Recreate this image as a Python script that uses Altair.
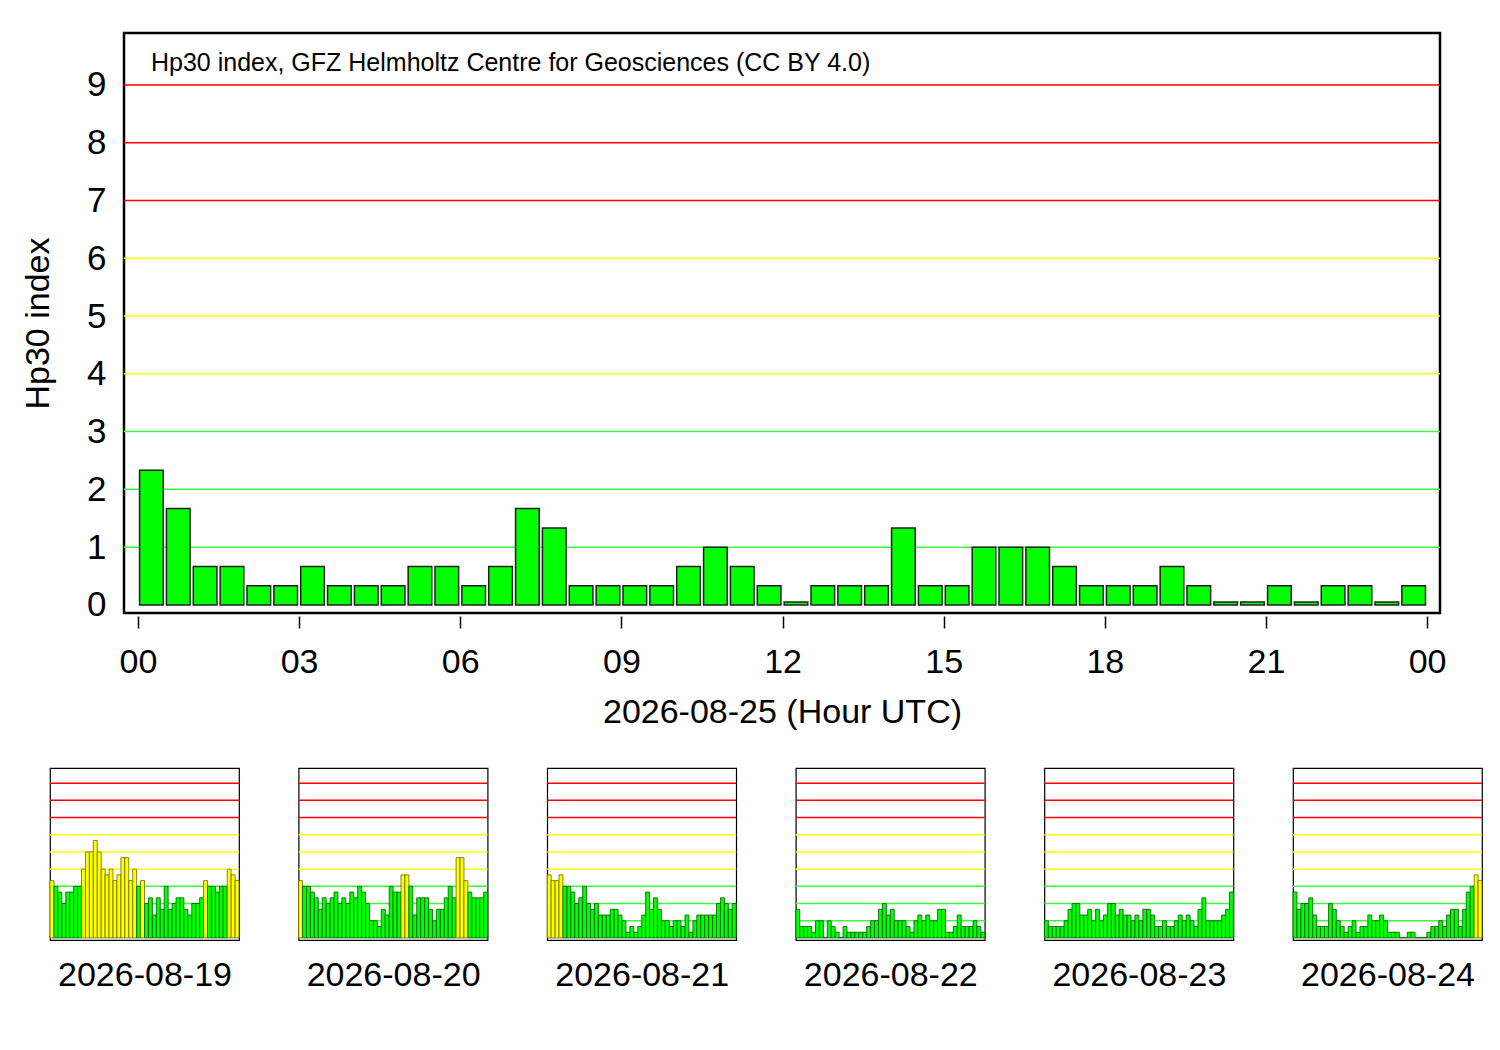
import altair as alt
import pandas as pd

FONT = "Liberation Sans"

main_day_title = "2026-08-25 (Hour UTC)"
y_title = "Hp30 index"
note_text = "Hp30 index, GFZ Helmholtz Centre for Geosciences (CC BY 4.0)"

# Hp30 values, half-hour bins, 2026-08-25
main_values = [2.333, 1.667, 0.667, 0.667, 0.333, 0.333, 0.667, 0.333,
               0.333, 0.333, 0.667, 0.667, 0.333, 0.667, 1.667, 1.333,
               0.333, 0.333, 0.333, 0.333, 0.667, 1.000, 0.667, 0.333,
               0.000, 0.333, 0.333, 0.333, 1.333, 0.333, 0.333, 1.000,
               1.000, 1.000, 0.667, 0.333, 0.333, 0.333, 0.667, 0.333,
               0.000, 0.000, 0.333, 0.000, 0.333, 0.333, 0.000, 0.333]

small_days = ["2026-08-19", "2026-08-20", "2026-08-21",
              "2026-08-22", "2026-08-23", "2026-08-24"]

day_19 = [3.333, 3.000, 2.667, 2.000, 2.667, 2.667, 3.000, 3.000,
          4.000, 5.000, 5.000, 5.667, 5.000, 4.000, 3.667, 4.000,
          3.333, 3.667, 4.667, 4.667, 3.333, 4.000, 3.000, 3.333,
          2.000, 2.333, 1.333, 2.333, 1.667, 3.000, 1.667, 2.000,
          2.333, 2.333, 1.667, 1.333, 2.000, 2.000, 2.333, 3.333,
          3.000, 3.000, 2.667, 3.000, 3.000, 4.000, 3.667, 3.333]
day_20 = [3.333, 3.000, 3.000, 2.667, 2.333, 1.667, 2.333, 2.000,
          2.333, 2.667, 2.000, 2.333, 2.000, 2.667, 2.333, 3.000,
          2.667, 2.000, 1.000, 1.000, 0.667, 1.667, 1.333, 3.000,
          2.667, 2.667, 3.667, 3.667, 3.000, 1.333, 2.333, 2.333,
          2.333, 1.667, 1.000, 1.667, 1.667, 2.333, 3.000, 2.333,
          4.667, 4.667, 3.333, 2.667, 2.333, 2.333, 2.333, 2.667]
day_21 = [3.667, 3.333, 3.333, 3.667, 3.000, 3.000, 2.667, 2.000,
          2.333, 3.000, 2.000, 1.667, 2.000, 1.333, 1.333, 1.333,
          1.667, 1.667, 1.333, 1.000, 0.333, 0.667, 0.333, 0.667,
          1.333, 2.667, 1.667, 2.333, 1.667, 1.000, 1.000, 0.667,
          1.000, 1.000, 0.667, 1.333, 0.333, 1.000, 1.333, 1.333,
          1.333, 1.333, 1.333, 2.000, 2.333, 2.000, 1.667, 2.000]
day_22 = [1.667, 0.667, 0.667, 0.667, 0.333, 1.000, 1.000, 0.000,
          1.000, 0.667, 0.333, 0.000, 0.667, 0.333, 0.333, 0.333,
          0.333, 0.333, 0.667, 1.000, 1.000, 1.667, 2.000, 1.333,
          1.667, 1.000, 1.000, 1.000, 0.667, 0.333, 1.000, 1.333,
          1.000, 1.333, 1.000, 1.000, 1.667, 1.667, 0.333, 0.333,
          0.667, 1.333, 0.667, 0.667, 0.667, 1.000, 0.667, 0.333]
day_23 = [1.000, 0.667, 0.667, 0.667, 0.667, 1.000, 1.667, 2.000,
          2.000, 1.333, 1.333, 1.667, 1.000, 1.667, 1.000, 1.333,
          2.000, 2.000, 1.333, 1.667, 1.333, 1.333, 1.000, 1.333,
          1.000, 1.667, 1.667, 1.333, 0.667, 0.667, 1.000, 0.667,
          0.667, 1.000, 1.333, 1.000, 1.333, 1.000, 0.667, 1.667,
          2.333, 1.000, 1.000, 1.000, 1.000, 1.333, 1.667, 2.667]
day_24 = [2.667, 1.667, 2.000, 2.000, 2.333, 1.333, 0.667, 0.667,
          0.667, 2.000, 1.667, 1.000, 0.667, 0.333, 0.667, 1.000,
          0.333, 0.667, 0.667, 1.333, 1.000, 1.000, 1.333, 1.000,
          0.333, 0.333, 0.333, 0.000, 0.000, 0.333, 0.333, 0.000,
          0.000, 0.000, 0.333, 0.667, 0.667, 1.000, 0.667, 1.333,
          1.667, 1.667, 0.667, 1.667, 2.667, 3.000, 3.667, 3.333]
small_values = [day_19, day_20, day_21, day_22, day_23, day_24]

hour_ticks = [0, 3, 6, 9, 12, 15, 18, 21, 24]
hour_labels = ["00", "03", "06", "09", "12", "15", "18", "21", "00"]

y_ticks = [0, 1, 2, 3, 4, 5, 6, 7, 8, 9]
levels = [1, 2, 3, 4, 5, 6, 7, 8, 9]
level_colors = ["#3cff3c", "#3cff3c", "#3cff3c",
                "#ffff00", "#ffff00", "#ffff00",
                "#ff0000", "#ff0000", "#ff0000"]

grid_df = pd.DataFrame({"level": levels, "col": level_colors})

label_js = "[" + ",".join("'%s'" % s for s in hour_labels) + "][datum.value / 3]"

# ---------------- main chart ----------------
main_df = pd.DataFrame({"t": [i * 0.5 for i in range(len(main_values))],
                        "v": main_values})
main_df["t0"] = main_df["t"] + 0.03
main_df["t1"] = main_df["t"] + 0.47
main_df["vd"] = main_df["v"].clip(lower=0.05)

xs = alt.Scale(domain=[-0.26, 24.24], nice=False, zero=False)
ys = alt.Scale(domain=[-0.14, 9.9], nice=False, zero=False)

x_axis = alt.Axis(values=hour_ticks, labelExpr=label_js, title=main_day_title,
                  grid=False, domain=False, ticks=True, tickSize=12, tickWidth=1.5,
                  tickColor="black", offset=3, labelPadding=17, labelFontSize=34,
                  labelColor="black", titleFontSize=34, titleFontWeight="normal",
                  titleColor="black", titlePadding=16, labelFont=FONT, titleFont=FONT)
y_axis = alt.Axis(values=y_ticks, title=y_title, grid=False,
                  domain=False, ticks=False, tickSize=0, labelPadding=18,
                  labelFontSize=35, labelColor="black", titleFontSize=34,
                  titleFontWeight="normal", titleColor="black", titlePadding=31,
                  labelFont=FONT, titleFont=FONT)

main_grid = alt.Chart(grid_df).mark_rule(strokeWidth=1.5).encode(
    y=alt.Y("level:Q", scale=ys, axis=y_axis),
    color=alt.Color("col:N", scale=None),
)
main_bars = alt.Chart(main_df).mark_bar(
    fill="#00ff00", stroke="#202020", strokeWidth=1.5
).encode(
    x=alt.X("t0:Q", scale=xs, axis=x_axis),
    x2="t1:Q",
    y=alt.Y("vd:Q", scale=ys, axis=y_axis),
    y2=alt.datum(0),
)
main_note = alt.Chart(pd.DataFrame({"label": [note_text]})).mark_text(
    align="left", baseline="middle", fontSize=25, font=FONT, color="black"
).encode(x=alt.value(27), y=alt.value(30), text="label:N")

main = alt.layer(main_grid, main_bars, main_note).properties(
    width=1316, height=580,
    view=alt.ViewBackground(stroke="black", strokeWidth=2.5),
)

# ---------------- small daily panels ----------------
sxs = alt.Scale(domain=[0, 24], nice=False, zero=False)
sys_ = alt.Scale(domain=[-0.12, 9.88], nice=False, zero=False)

panels = []
for day, vals in zip(small_days, small_values):
    df = pd.DataFrame({"t": [i * 0.5 for i in range(len(vals))], "v": vals})
    df["t1"] = df["t"] + 0.5
    df["vd"] = df["v"].clip(lower=0.03)
    df["fill"] = ["#ffff00" if v > 3.1 else "#00ff00" for v in vals]
    df["edge"] = ["#6a6a00" if v > 3.1 else "#005a00" for v in vals]
    sx_axis = alt.Axis(title=day, labels=False, ticks=False, domain=False, grid=False,
                       tickSize=0, labelPadding=0, titleFontSize=34,
                       titleFontWeight="normal", titleColor="black", titlePadding=18,
                       titleFont=FONT)
    g = alt.Chart(grid_df).mark_rule(strokeWidth=1.5).encode(
        y=alt.Y("level:Q", scale=sys_, axis=None),
        color=alt.Color("col:N", scale=None),
    )
    b = alt.Chart(df).mark_bar(strokeWidth=0.8).encode(
        x=alt.X("t:Q", scale=sxs, axis=sx_axis),
        x2="t1:Q",
        y=alt.Y("vd:Q", scale=sys_, axis=None),
        y2=alt.datum(0),
        fill=alt.Fill("fill:N", scale=None),
        stroke=alt.Stroke("edge:N", scale=None),
    )
    panels.append(alt.layer(g, b).properties(
        width=189, height=172,
        view=alt.ViewBackground(stroke="black", strokeWidth=1.2),
    ))


def blank(w, h):
    return alt.Chart(pd.DataFrame({"a": [0]})).mark_point(opacity=0, size=1).encode(
        x=alt.value(0), y=alt.value(0)
    ).properties(width=w, height=h, view=alt.ViewBackground(stroke=None))


top = alt.hconcat(blank(8, 580), main, spacing=0)
bottom = alt.hconcat(blank(36, 172), alt.hconcat(*panels, spacing=55.6), spacing=0)

chart = alt.vconcat(top, bottom, spacing=36).properties(
    padding={"left": 3, "top": 23, "right": 2, "bottom": 2}
).configure(font=FONT).configure_view(fill="white")

chart.save("out.html", embed_options={"renderer": "svg", "actions": False})
